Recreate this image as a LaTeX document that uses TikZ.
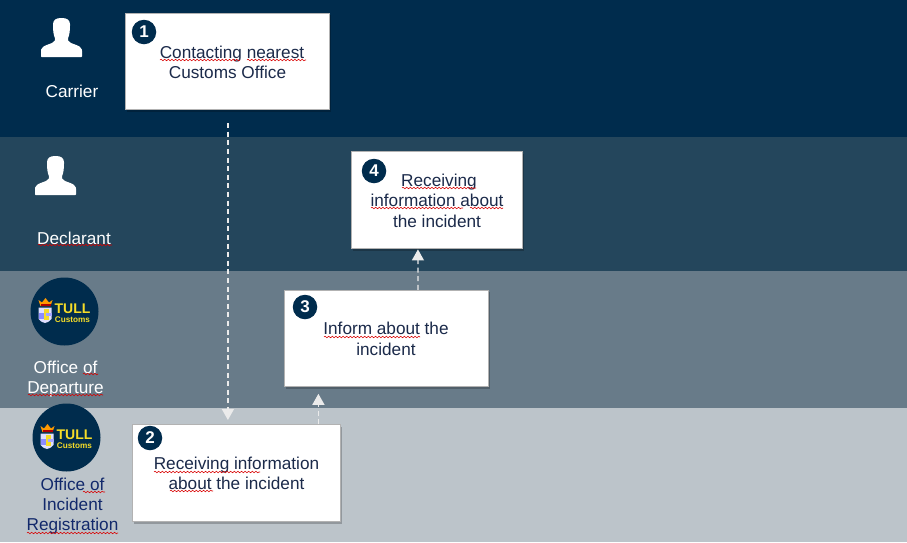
\documentclass[tikz,border=0pt]{standalone}
\usepackage{fontspec}
\setmainfont{Liberation Sans}
\usetikzlibrary{shadows,decorations.pathmorphing,arrows.meta}
\definecolor{bandA}{HTML}{002C4D}
\definecolor{bandB}{HTML}{24465C}
\definecolor{bandC}{HTML}{687B89}
\definecolor{bandD}{HTML}{BCC4CA}
\definecolor{inkD}{HTML}{1B2A4A}
\definecolor{navy}{HTML}{12296B}
\definecolor{tullY}{HTML}{F5DC28}
\tikzset{
  x=1pt,y=-1pt,
  band/.style={fill=#1,draw=none},
  card/.style={draw=black!30,line width=.8pt,fill=white,anchor=north west,inner sep=0pt,
    drop shadow={shadow xshift=1.5pt,shadow yshift=-2pt,opacity=.22,fill=black}},
  cardtext/.style={font=\fontsize{17.2}{20.5}\selectfont,text=inkD,align=center,inner sep=0pt},
  roletext/.style={font=\fontsize{17.2}{20.3}\selectfont,text=white,align=center,inner sep=0pt},
  badge/.style={circle,fill=bandA,text=white,minimum size=24.5pt,inner sep=0pt,font=\fontsize{17}{17}\selectfont\bfseries},
  flow/.style={draw=white!92!black,line width=1.3pt,dash pattern=on 5pt off 3.6pt,
    -{Triangle[length=11pt,width=12pt,fill=white!92!black]}},
  squig/.style={draw=red!85!black,line width=.55pt,decorate,decoration={snake,amplitude=.8pt,segment length=3.6pt}},
  logo/.style={circle,fill=bandA,minimum size=68pt,inner sep=0pt},
}
\newcommand{\personicon}[2]{%
  \fill[white,shift={(#1,#2)},rounded corners=.6pt] (0,39) -- (0,32) .. controls (1,29) and (3,28) .. (7,26.5)
    .. controls (10,25.5) and (13,24.5) .. (14,22) -- (14,20) .. controls (12.5,17) and (12,12) .. (12,7)
    .. controls (12,2) and (15,0) .. (20.5,0) .. controls (26,0) and (29,2) .. (29,7)
    .. controls (29,12) and (28.5,17) .. (27,20) -- (27,22) .. controls (28,24.5) and (31,25.5) .. (34,26.5)
    .. controls (38,28) and (40,29) .. (41,32) -- (41,39) -- cycle;}
\newcommand{\tullmark}[2]{%
  \begin{scope}[shift={(#1,#2)}]
    \fill[orange!80!yellow] (-24,-7) -- (-26,-13) -- (-22.5,-10.5) -- (-19,-15) -- (-15.5,-10.5) -- (-12,-13) -- (-14,-7) -- cycle;
    \fill[red!70!black] (-24,-9) rectangle (-14,-7.5);
    \fill[blue!12!white] (-26,-5.5) -- (-13,-5.5) -- (-13,6) .. controls (-15,9) and (-17,9) .. (-19.5,10) .. controls (-22,9) and (-24,9) .. (-26,6) -- cycle;
    \fill[blue!45!white] (-26,0) rectangle (-21,6);
    \fill[tullY] (-20.5,-4) rectangle (-15.5,7);
    \fill[blue!35!white] (-19,0) rectangle (-13,2.5);
    \node[inner sep=0pt,text=tullY,font=\fontsize{14}{14}\selectfont\bfseries] at (8,-4) {TULL};
    \node[inner sep=0pt,text=tullY,font=\fontsize{8.2}{8.2}\selectfont\bfseries] at (8,6.5) {Customs};
  \end{scope}}
\newcommand{\squigline}[3]{\draw[squig] (#1,#3) -- (#2,#3);}
\begin{document}
\begin{tikzpicture}
\useasboundingbox (0,0) rectangle (907,542);
% bands
\fill[band=bandA] (0,0) rectangle (907,137);
\fill[band=bandB] (0,137) rectangle (907,271);
\fill[band=bandC] (0,271) rectangle (907,408);
\fill[band=bandD] (0,408) rectangle (907,542);
% cards
\node[card,minimum width=204pt,minimum height=96.5pt] (card1) at (124.8,12.8) {};
\node[card,minimum width=208pt,minimum height=97pt] (card2) at (132.3,424.3) {};
\node[card,minimum width=204pt,minimum height=96.5pt] (card3) at (283.8,289.8) {};
\node[card,minimum width=170.5pt,minimum height=97pt] (card4) at (351.3,151.3) {};
% connectors
\draw[flow] ([xshift=.7pt,yshift=-13pt]card1.south) -- ([xshift=-8.8pt,yshift=4.3pt]card2.north);
\draw[flow] ([xshift=81.7pt]card2.north) -- ([xshift=-67.8pt,yshift=-6.7pt]card3.south);
\draw[flow] ([xshift=31.7pt]card3.north) -- ([xshift=-19pt,yshift=-.3pt]card4.south);
% badges
\node[badge] (b1) at (144,32) {1};
\node[badge] (b2) at (150,438) {2};
\node[badge] (b3) at (305,307) {3};
\node[badge] (b4) at (374,171) {4};
% card text
\node[cardtext] (t1) at (232,62.5) {Contacting nearest\\Customs Office\hspace*{9pt}};
\node[cardtext] (t2) at (236.5,473.5) {Receiving information\\about the incident};
\node[cardtext] (t3) at (386,339) {Inform about the\\incident};
\node[cardtext] (t4) at (437,200.5) {\hspace*{4pt}Receiving\\information about\\the incident};
% people
\personicon{41}{18}
\personicon{35}{156}
\node[roletext] (carrier) at (72,91) {Carrier};
\node[roletext] (declarant) at (74,238) {Declarant};
% logos
\node[logo] (logo1) at (64.5,311.5) {};
\node[logo] (logo2) at (66.5,437.5) {};
\tullmark{64.5}{313}
\tullmark{66.5}{439}
\node[roletext] (dep) at (65.5,379) {Office of\\Departure};
\node[roletext,text=navy] (reg) at (72.5,506) {Office of\\Incident\\Registration};
% spelling marks
\squigline{160}{240}{60}
\squigline{247}{306}{60}
\squigline{154}{260}{472}
\squigline{170}{213}{491}
\squigline{324}{420}{337}
\squigline{402}{476}{188}
\squigline{371}{463}{208}
\squigline{470}{503}{208}
\squigline{38}{112}{245}
\squigline{83}{98}{374}
\squigline{28}{103}{395}
\squigline{83}{105}{492}
\squigline{27}{118}{533}
\end{tikzpicture}
\end{document}
